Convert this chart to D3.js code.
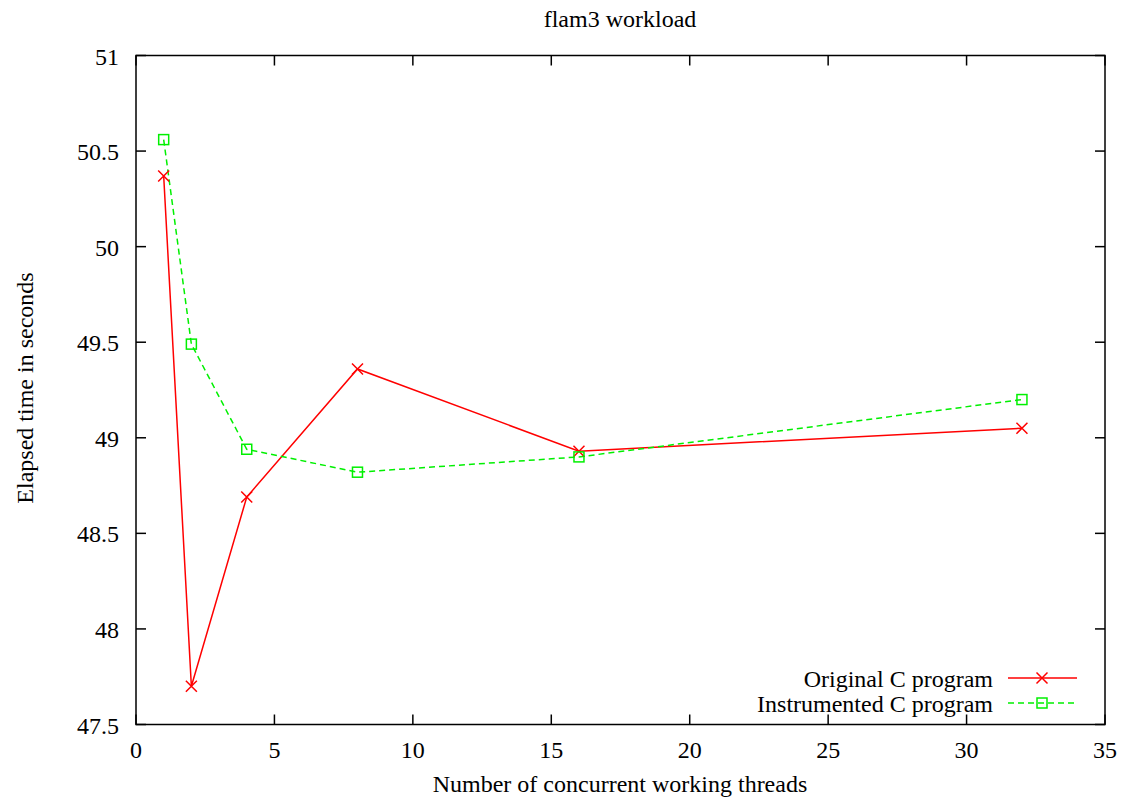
<!DOCTYPE html>
<html><head><meta charset="utf-8">
<script src="https://cdnjs.cloudflare.com/ajax/libs/d3/7.8.5/d3.min.js"></script>
<style>body{margin:0;background:#fff}svg{display:block}text{font-family:"Liberation Serif","Times New Roman",serif;fill:#000}</style>
</head><body>
<script>
const threads = [1, 2, 4, 8, 16, 32];
const original = [50.37, 47.70, 48.69, 49.36, 48.93, 49.05];
const instrumented = [50.56, 49.49, 48.94, 48.82, 48.90, 49.20];
const xTicks = [0, 5, 10, 15, 20, 25, 30, 35];
const yTicks = [47.5, 48, 48.5, 49, 49.5, 50, 50.5, 51];
const seriesNames = ["Original C program", "Instrumented C program"];

const W = 1127, H = 800;
const L = 136, R = 1105, T = 55.5, B = 724.5;
const svg = d3.select("body").append("svg").attr("width", W).attr("height", H);
const x = d3.scaleLinear().domain([0, 35]).range([L, R]);
const y = d3.scaleLinear().domain([47.5, 51]).range([B, T]);

const fs = "24px";
const tl = 10;
const g = svg.append("g").attr("stroke", "#000").attr("stroke-width", 1.5);
xTicks.forEach(v => {
  g.append("line").attr("x1", x(v)).attr("x2", x(v)).attr("y1", B).attr("y2", B - tl);
  g.append("line").attr("x1", x(v)).attr("x2", x(v)).attr("y1", T).attr("y2", T + tl);
});
yTicks.forEach(v => {
  g.append("line").attr("x1", L).attr("x2", L + tl).attr("y1", y(v)).attr("y2", y(v));
  g.append("line").attr("x1", R).attr("x2", R - tl).attr("y1", y(v)).attr("y2", y(v));
});
xTicks.forEach(v => svg.append("text").attr("x", x(v)).attr("y", B + 33).attr("text-anchor", "middle").style("font-size", fs).text(v));
yTicks.forEach(v => svg.append("text").attr("x", L - 17).attr("y", y(v) + 9).attr("text-anchor", "end").style("font-size", fs).text(v));

svg.append("rect").attr("x", L).attr("y", T).attr("width", R - L).attr("height", B - T)
  .attr("fill", "none").attr("stroke", "#000").attr("stroke-width", 1.5);

svg.append("text").attr("x", 620).attr("y", 27).attr("text-anchor", "middle").style("font-size", fs).text("flam3 workload");
svg.append("text").attr("x", 620).attr("y", 792).attr("text-anchor", "middle").style("font-size", fs).text("Number of concurrent working threads");
svg.append("text").attr("transform", "translate(33,388) rotate(-90)").attr("text-anchor", "middle").style("font-size", fs).text("Elapsed time in seconds");

const line = d3.line().x(d => x(d[0])).y(d => y(d[1]));
const red = "#ff0000", green = "#00f000";
const d1 = threads.map((t, i) => [t, original[i]]);
const d2 = threads.map((t, i) => [t, instrumented[i]]);

function cross(sel, cx, cy) {
  const s = 5.5;
  sel.append("path").attr("d", `M${cx - s},${cy - s}L${cx + s},${cy + s}M${cx - s},${cy + s}L${cx + s},${cy - s}`)
    .attr("stroke", red).attr("stroke-width", 1.5).attr("fill", "none");
}
function square(sel, cx, cy) {
  const s = 5;
  sel.append("rect").attr("x", cx - s).attr("y", cy - s).attr("width", 2 * s).attr("height", 2 * s)
    .attr("stroke", green).attr("stroke-width", 1.5).attr("fill", "none");
}

svg.append("path").datum(d1).attr("d", line).attr("fill", "none").attr("stroke", red).attr("stroke-width", 1.5);
svg.append("path").datum(d2).attr("d", line).attr("fill", "none").attr("stroke", green).attr("stroke-width", 1.5).attr("stroke-dasharray", "6,4");
d1.forEach(d => cross(svg, x(d[0]), y(d[1])));
d2.forEach(d => square(svg, x(d[0]), y(d[1])));

const ly1 = 678, ly2 = 703;
svg.append("text").attr("x", 993).attr("y", ly1 + 9).attr("text-anchor", "end").style("font-size", fs).text(seriesNames[0]);
svg.append("text").attr("x", 993).attr("y", ly2 + 9).attr("text-anchor", "end").style("font-size", fs).text(seriesNames[1]);
svg.append("line").attr("x1", 1008).attr("x2", 1077).attr("y1", ly1).attr("y2", ly1).attr("stroke", red).attr("stroke-width", 1.5);
cross(svg, 1042, ly1);
svg.append("line").attr("x1", 1008).attr("x2", 1077).attr("y1", ly2).attr("y2", ly2).attr("stroke", green).attr("stroke-width", 1.5).attr("stroke-dasharray", "6,4");
square(svg, 1042, ly2);
</script>
</body></html>
